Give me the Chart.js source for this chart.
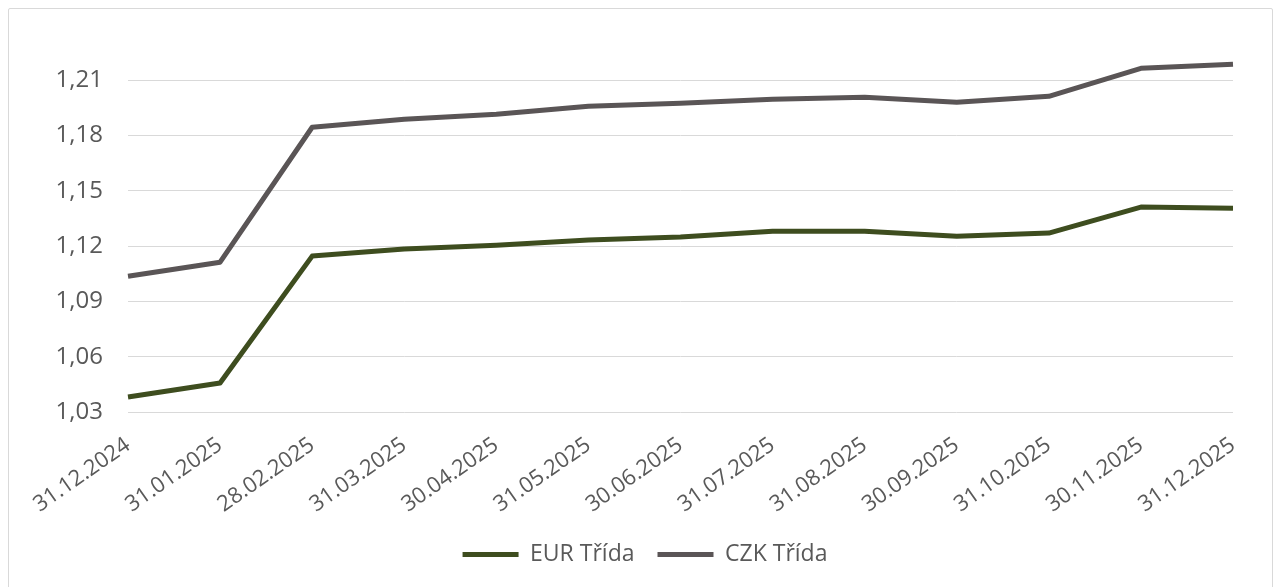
<!DOCTYPE html>
<html>
<head>
<meta charset="utf-8">
<script src="https://cdn.jsdelivr.net/npm/chart.js@4"></script>
<style>
  body { margin: 0; background: #fff; }
  #box {
    position: absolute; left: 8px; top: 8px;
    width: 1263px; height: 590px;
    border: 1px solid #d9d9d9; border-radius: 2px;
  }
  #chart { display: block; }
</style>
</head>
<body>
<div id="box"><canvas id="chart" width="1263" height="578"></canvas></div>
<script>
const labels = ["31.12.2024", "31.01.2025", "28.02.2025", "31.03.2025", "30.04.2025", "31.05.2025",
  "30.06.2025", "31.07.2025", "31.08.2025", "30.09.2025", "31.10.2025", "30.11.2025", "31.12.2025"];
const eurValues = [1.0381, 1.0457, 1.1146, 1.1184, 1.1205, 1.1233, 1.1249, 1.1281, 1.1281, 1.1254, 1.1271, 1.1412, 1.1406];
const czkValues = [1.1037, 1.1113, 1.1845, 1.1889, 1.1916, 1.1959, 1.1975, 1.1997, 1.2008, 1.1981, 1.2013, 1.2165, 1.2187];

const textColor = "#595959";

// shift the legend so it sits centred on the whole canvas, not the padded area
const legendShift = {
  id: "legendShift",
  afterLayout(chart) {
    chart.legend.left += 24;
    chart.legend.right += 24;
  },
};

document.addEventListener("DOMContentLoaded", function () {
  const ctx = document.getElementById("chart").getContext("2d");

  new Chart(ctx, {
    type: "line",
    data: {
      labels: labels,
      datasets: [
        {
          label: "EUR Třída",
          data: eurValues,
          borderColor: "#3e4d1f",
          backgroundColor: "#3e4d1f",
          borderWidth: 5,
          pointRadius: 0,
          tension: 0,
          borderJoinStyle: "round",
        },
        {
          label: "CZK Třída",
          data: czkValues,
          borderColor: "#5a5556",
          backgroundColor: "#5a5556",
          borderWidth: 5,
          pointRadius: 0,
          tension: 0,
          borderJoinStyle: "round",
        },
      ],
    },
    plugins: [legendShift],
    options: {
      responsive: false,
      animation: false,
      layout: { padding: { top: 16, right: 39, bottom: 11, left: 0 } },
      plugins: {
        tooltip: { enabled: false },
        legend: {
          position: "bottom",
          labels: {
            usePointStyle: true,
            pointStyle: "line",
            pointStyleWidth: 56,
            boxHeight: 20,
            padding: 23,
            color: textColor,
            font: { family: "'Open Sans'", size: 23 },
          },
        },
      },
      scales: {
        x: {
          offset: false,
          grid: { display: false },
          border: { display: false },
          ticks: {
            color: textColor,
            font: { family: "'Open Sans'", size: 22 },
            minRotation: 35,
            maxRotation: 35,
            padding: 12,
          },
          afterFit: (scale) => { scale.height = 108; },
        },
        y: {
          min: 1.03,
          max: 1.24,
          grid: { color: "#d9d9d9", lineWidth: 1, drawTicks: false },
          border: { display: false },
          ticks: {
            stepSize: 0.03,
            color: textColor,
            font: { family: "'Open Sans'", size: 24 },
            padding: 25,
            callback: (v) => v.toFixed(2).replace(".", ","),
          },
          afterBuildTicks: (scale) => {
            scale.ticks = scale.ticks.filter((t) => t.value < 1.235);
          },
          afterFit: (scale) => {
            scale.width = 119;
            scale.paddingTop = 0;
            scale.paddingBottom = 0;
          },
        },
      },
    },
  });
});
</script>
</body>
</html>
